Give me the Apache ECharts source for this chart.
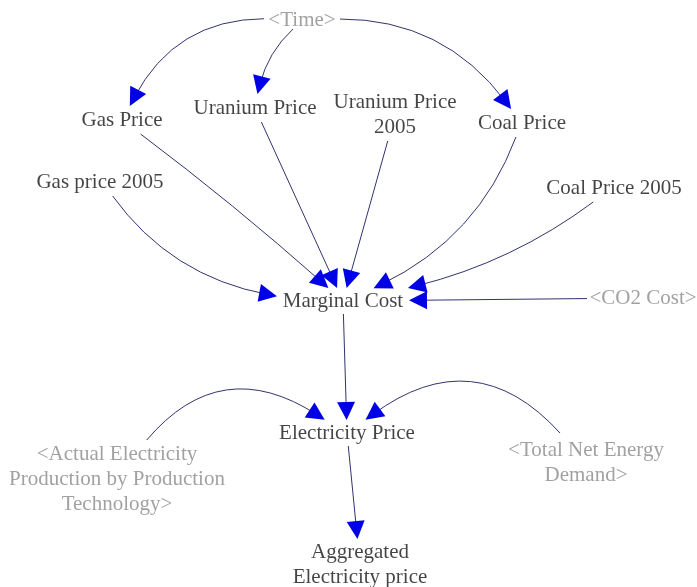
<!DOCTYPE html>
<html>
<head>
<meta charset="utf-8">
<script src="https://cdn.jsdelivr.net/npm/echarts@6/dist/echarts.min.js"></script>
<style>
  html, body { margin: 0; padding: 0; background: #fff; }
  #main { width: 697px; height: 587px; }
</style>
</head>
<body>
<div id="main"></div>
<script>
// variables of the causal diagram
const nodeNames = [
  '<Time>', 'Gas Price', 'Uranium Price', 'Uranium Price\n2005', 'Coal Price',
  'Gas price 2005', 'Coal Price 2005', 'Marginal Cost', '<CO2 Cost>',
  'Electricity Price', '<Actual Electricity\nProduction by Production\nTechnology>',
  '<Total Net Energy\nDemand>', 'Aggregated\nElectricity price'
];
// shadow variables are drawn grey
const shadowNodes = [
  '<Time>', '<CO2 Cost>',
  '<Actual Electricity\nProduction by Production\nTechnology>',
  '<Total Net Energy\nDemand>'
];
// causal links: cause -> effect, with bend of the arc
const linkFrom = [
  '<Time>', '<Time>', '<Time>',
  'Gas Price', 'Uranium Price', 'Uranium Price\n2005', 'Coal Price',
  'Gas price 2005', 'Coal Price 2005', '<CO2 Cost>',
  'Marginal Cost',
  '<Actual Electricity\nProduction by Production\nTechnology>',
  '<Total Net Energy\nDemand>',
  'Electricity Price'
];
const linkTo = [
  'Gas Price', 'Uranium Price', 'Coal Price',
  'Marginal Cost', 'Marginal Cost', 'Marginal Cost', 'Marginal Cost',
  'Marginal Cost', 'Marginal Cost', 'Marginal Cost',
  'Electricity Price',
  'Electricity Price', 'Electricity Price',
  'Aggregated\nElectricity price'
];
const linkBend = [-0.3, -0.15, 0.25, 0.02, 0, 0, 0.2, -0.2, 0.1, 0, 0, 0.44, -0.45, 0];

// layout of the sketch (centre of each label and half size of its box)
const nodeX = [302, 122, 255, 395, 522, 100, 614, 343, 643, 347, 117, 586, 360];
const nodeY = [20, 120, 108, 115, 123, 182, 188, 301, 298, 433, 479, 463, 565];
const boxW = [38, 45, 62, 62, 48, 68, 72, 66, 56, 68, 110, 80, 68];
const boxH = [9, 14, 14, 26, 14, 14, 14, 13, 9, 13, 39, 30, 26];

const ARROW = [12, 18];

function idx(name) { return nodeNames.indexOf(name); }

function clip(i, tx, ty) {
  const dx = tx - nodeX[i], dy = ty - nodeY[i];
  const t = Math.min(dx ? boxW[i] / Math.abs(dx) : Infinity,
                     dy ? boxH[i] / Math.abs(dy) : Infinity);
  return [nodeX[i] + dx * t, nodeY[i] + dy * t];
}

function control(p, q, c) {
  return [(p[0] + q[0]) / 2 - (p[1] - q[1]) * c, (p[1] + q[1]) / 2 - (q[0] - p[0]) * c];
}

const linkData = linkFrom.map(function (from, k) {
  const a = idx(from), b = idx(linkTo[k]), c = linkBend[k];
  const cp0 = control([nodeX[a], nodeY[a]], [nodeX[b], nodeY[b]], c);
  const start = clip(a, cp0[0], cp0[1]);
  const tip = clip(b, cp0[0], cp0[1]);
  const cp1 = control(start, tip, c);
  let dx = tip[0] - cp1[0], dy = tip[1] - cp1[1];
  const len = Math.sqrt(dx * dx + dy * dy);
  dx /= len; dy /= len;
  const end = [tip[0] - dx * ARROW[1] / 2, tip[1] - dy * ARROW[1] / 2];
  return { coords: [start, end], lineStyle: { curveness: c } };
});

const nodeData = nodeNames.map(function (name, i) {
  return {
    name: name,
    value: [nodeX[i], nodeY[i]],
    label: { color: shadowNodes.indexOf(name) >= 0 ? '#8a8a8a' : '#151515' }
  };
});

const chart = echarts.init(document.getElementById('main'));

const option = {
  backgroundColor: '#fff',
  animation: false,
  grid: { left: 0, right: 0, top: 0, bottom: 0 },
  xAxis: { type: 'value', min: 0, max: 697, show: false },
  yAxis: { type: 'value', min: 0, max: 587, inverse: true, show: false },
  series: [
    {
      type: 'lines',
      coordinateSystem: 'cartesian2d',
      silent: true,
      z: 2,
      symbol: 'none',
      lineStyle: { color: '#33336e', width: 1, opacity: 1 },
      data: linkData
    },
    {
      type: 'lines',
      coordinateSystem: 'cartesian2d',
      silent: true,
      z: 3,
      symbol: ['none', 'triangle'],
      symbolSize: ARROW,
      lineStyle: { color: '#0000e6', width: 0, opacity: 1 },
      data: linkData
    },
    {
      type: 'scatter',
      silent: true,
      z: 4,
      symbolSize: 0,
      label: {
        show: true,
        position: 'inside',
        formatter: function (p) { return p.name; },
        fontFamily: 'Liberation Serif',
        fontSize: 21,
        lineHeight: 25,
        align: 'center'
      },
      data: nodeData
    }
  ]
};

chart.setOption(option);
</script>
</body>
</html>
